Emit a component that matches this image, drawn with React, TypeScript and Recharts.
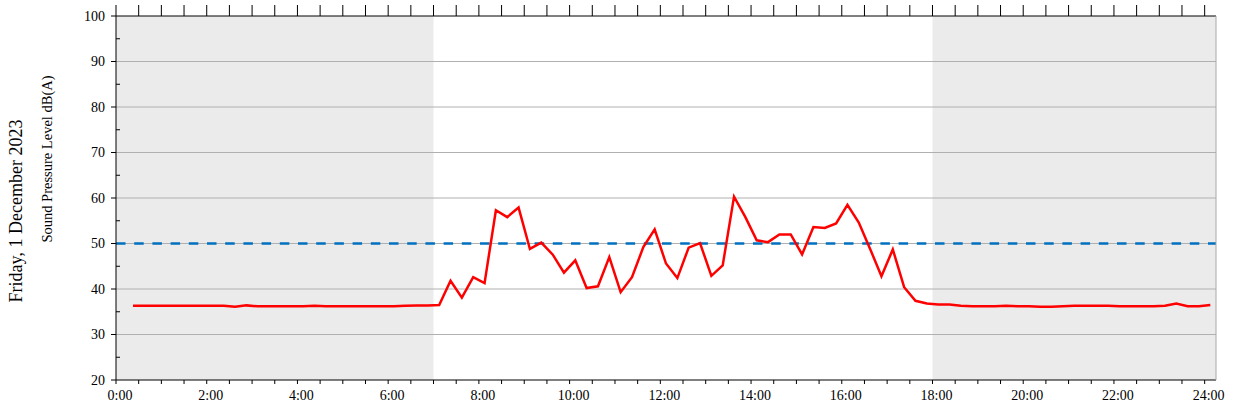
import React from "react";
import {
  LineChart,
  Line,
  XAxis,
  YAxis,
  ReferenceArea,
  ReferenceLine,
} from "recharts";

// 15-minute levels, dB(A), first sample at 0:22:30
const levels = [
  36.3, 36.3, 36.3, 36.3, 36.3, 36.3, 36.3, 36.3, 36.3, 36.1,
  36.4, 36.2, 36.2, 36.2, 36.2, 36.2, 36.3, 36.2, 36.2, 36.2,
  36.2, 36.2, 36.2, 36.2, 36.3, 36.4, 36.4, 36.5, 41.8, 38.1,
  42.6, 41.3, 57.3, 55.8, 57.9, 48.8, 50.2, 47.6, 43.6, 46.3,
  40.2, 40.6, 47.0, 39.3, 42.6, 49.2, 53.1, 45.6, 42.4, 49.1,
  50.1, 42.9, 45.2, 60.3, 55.8, 50.7, 50.3, 52.0, 52.0, 47.6,
  53.6, 53.4, 54.4, 58.5, 54.6, 48.8, 42.8, 48.7, 40.4, 37.4,
  36.8, 36.6, 36.6, 36.3, 36.2, 36.2, 36.2, 36.3, 36.2, 36.2,
  36.1, 36.1, 36.2, 36.3, 36.3, 36.3, 36.3, 36.2, 36.2, 36.2,
  36.2, 36.3, 36.8, 36.2, 36.2, 36.5,
];
const firstSample = 0.375;
const sampleStep = 0.25;

const limit = 50;
const nightBands = [
  [0, 7],
  [18, 24.25],
];
const xDomain = [0, 24.25];
const yDomain = [20, 100];
const hourTicks = Array.from({ length: 49 }, (_, i) => i * 0.5);
const yTicks = [20, 25, 30, 35, 40, 45, 50, 55, 60, 65, 70, 75, 80, 85, 90, 95, 100];
const gridValues = [30, 40, 50, 60, 70, 80, 90];

const data = levels.map((v, i) => ({ t: firstSample + i * sampleStep, spl: v }));

const FONT = "'Liberation Serif', 'Times New Roman', serif";
const TICK = 5;
const GAP = 6;

const YTick = (props: any) => {
  const { x, y, payload } = props;
  const v = payload.value;
  const axisX = x + GAP + TICK;
  if (v % 10 !== 0) {
    return <line x1={axisX} x2={axisX + 4} y1={y} y2={y} stroke="#000" />;
  }
  return (
    <g>
      <line x1={x + GAP} x2={axisX} y1={y} y2={y} stroke="#000" />
      <text
        x={x}
        y={y}
        dy="0.35em"
        textAnchor="end"
        fill="#000"
        style={{ fontFamily: FONT, fontSize: 14 }}
      >
        {v}
      </text>
    </g>
  );
};

const XTick = (props: any) => {
  const { x, y, payload } = props;
  const v = payload.value;
  if (v % 2 !== 0) return <g />;
  return (
    <text
      x={x + 4}
      y={y}
      dy="0.75em"
      textAnchor="middle"
      fill="#000"
      style={{ fontFamily: FONT, fontSize: 14 }}
    >
      {`${v}:00`}
    </text>
  );
};

export default function App() {
  return (
    <div
      style={{
        position: "absolute",
        left: 0,
        top: 0,
        width: 1235,
        height: 412,
        background: "#fff",
        fontFamily: FONT,
      }}
    >
      <LineChart
        width={1235}
        height={412}
        data={data}
        margin={{ top: 0, right: 0, bottom: 0, left: 0 }}
      >
        <XAxis
          dataKey="t"
          type="number"
          domain={xDomain}
          allowDataOverflow
          ticks={hourTicks}
          interval={0}
          height={32}
          tickSize={4}
          tickMargin={5}
          axisLine={{ stroke: "#000" }}
          tickLine={{ stroke: "#000" }}
          tick={<XTick />}
        />
        <XAxis
          xAxisId="top"
          orientation="top"
          dataKey="t"
          type="number"
          domain={xDomain}
          allowDataOverflow
          ticks={hourTicks}
          interval={0}
          tickFormatter={() => ""}
          height={16}
          tickSize={11}
          axisLine={{ stroke: "#000" }}
          tickLine={{ stroke: "#000" }}
        />
        <YAxis
          type="number"
          domain={yDomain}
          ticks={yTicks}
          interval={0}
          width={116}
          tickSize={TICK}
          tickMargin={GAP}
          tickLine={false}
          axisLine={{ stroke: "#000" }}
          tick={<YTick />}
        />
        <YAxis
          yAxisId="right"
          orientation="right"
          type="number"
          domain={yDomain}
          width={19}
          tick={false}
          tickLine={false}
          axisLine={{ stroke: "#a8a8a8" }}
        />
        {nightBands.map(([a, b]) => (
          <ReferenceArea
            key={a}
            x1={a}
            x2={b}
            fill="#ebebeb"
            fillOpacity={1}
            stroke="none"
            ifOverflow="hidden"
          />
        ))}
        {gridValues.map((g) => (
          <ReferenceLine key={g} y={g} stroke="#b0b0b0" strokeWidth={1} />
        ))}
        <ReferenceLine
          y={limit}
          stroke="#0070c0"
          strokeWidth={2.5}
          strokeDasharray="9.5 8.7"
        />
        <Line
          type="linear"
          dataKey="spl"
          stroke="#ff0000"
          strokeWidth={2.5}
          dot={false}
          activeDot={false}
          isAnimationActive={false}
        />
      </LineChart>
      <div
        style={{
          position: "absolute",
          left: 16,
          top: 211,
          transform: "translate(-50%, -50%) rotate(-90deg)",
          whiteSpace: "nowrap",
          fontSize: 18,
        }}
      >
        Friday, 1 December 2023
      </div>
      <div
        style={{
          position: "absolute",
          left: 47,
          top: 159,
          transform: "translate(-50%, -50%) rotate(-90deg)",
          whiteSpace: "nowrap",
          fontSize: 14.5,
        }}
      >
        Sound Pressure Level dB(A)
      </div>
    </div>
  );
}
